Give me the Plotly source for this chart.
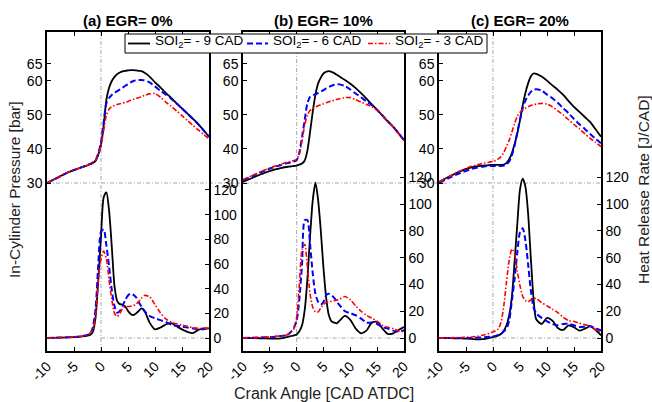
import plotly.graph_objects as go

# ---------------- data ----------------
CA = [-10, -8, -6, -4, -3, -2, -1.5, -1, -0.5, 0, 0.5, 1, 1.5, 2, 2.5, 3, 3.5, 4, 4.5, 5,
      5.5, 6, 6.5, 7, 7.5, 8, 9, 10, 11, 12, 13, 14, 15, 16, 17, 18, 19, 20]

# In-cylinder pressure [bar]
P_A_9 = [30, 31.6, 33.2, 34.4, 34.9, 35.5, 35.9, 36.5, 38.3, 41.2, 47, 54.5, 58, 60.0, 61.2, 62.0, 62.5, 62.8, 63.0, 63.1,
         63.2, 63.2, 63.1, 63.0, 62.9, 62.5, 61.3, 59.6, 58.1, 56.5, 55.0, 53.4, 51.9, 50.4, 48.9, 47.3, 45.5, 43.6]
P_A_6 = [30, 31.6, 33.2, 34.4, 35.0, 35.6, 36.1, 36.8, 38.8, 42, 48, 53.5, 55.0, 55.9, 56.5, 57.0, 57.5, 58.0, 58.6, 59.1,
         59.6, 60.0, 60.2, 60.3, 60.3, 60.2, 59.6, 58.4, 57.1, 56.0, 54.8, 53.4, 51.9, 50.4, 48.9, 47.3, 45.5, 43.6]
P_A_3 = [30, 31.6, 33.2, 34.4, 35.0, 35.6, 36.1, 36.8, 38.5, 41, 45.5, 50, 51.7, 52.5, 52.8, 53.1, 53.3, 53.5, 53.7, 54.0,
         54.3, 54.6, 54.9, 55.1, 55.4, 55.7, 56.2, 56.3, 55.2, 53.8, 52.6, 51.2, 49.8, 48.4, 47.0, 45.6, 44.3, 43.0]

P_B_9 = [30.3, 31.7, 33.0, 34.0, 34.4, 34.7, 34.8, 34.9, 35.0, 35.1, 35.4, 35.7, 36.6, 39.5, 45.0, 51.0, 56.0, 59.3, 61.0, 62.2,
         62.7, 62.9, 62.7, 62.3, 61.8, 61.3, 60.3, 59.2, 57.9, 56.4, 54.8, 53.1, 51.5, 49.8, 48.1, 46.5, 44.6, 42.6]
P_B_6 = [30.8, 32.2, 33.6, 34.8, 35.2, 35.7, 35.9, 36.1, 36.3, 36.7, 39.0, 43.5, 48.5, 53.5, 55.3, 55.8, 56.1, 56.5, 56.9, 57.3,
         57.8, 58.2, 58.6, 58.9, 59.0, 59.0, 58.5, 57.5, 56.3, 55.2, 54.0, 52.9, 51.5, 49.8, 48.1, 46.5, 44.6, 42.6]
P_B_3 = [31.0, 32.4, 33.8, 35.0, 35.5, 36.0, 36.2, 36.4, 36.6, 37.0, 38.5, 42.5, 47.0, 50.0, 51.3, 51.9, 52.3, 52.7, 53.0, 53.3,
         53.6, 53.9, 54.1, 54.4, 54.6, 54.8, 55.1, 55.1, 54.5, 53.8, 53.1, 52.4, 51.3, 49.7, 48.1, 46.4, 44.5, 42.5]

P_C_9 = [30.3, 32.0, 33.5, 34.6, 34.9, 35.1, 35.2, 35.2, 35.3, 35.3, 35.3, 35.3, 35.3, 35.4, 35.9, 37.0, 38.8, 41.5, 44.5, 48.5,
         52.9, 56.5, 59.3, 61.3, 62.2, 62.1, 61.3, 60.1, 58.7, 57.4, 55.9, 54.1, 52.4, 50.9, 49.4, 47.9, 45.8, 43.6]
P_C_6 = [30.0, 31.6, 33.0, 34.1, 34.5, 34.8, 34.9, 35.0, 35.0, 35.0, 35.0, 35.0, 35.0, 35.1, 35.5, 36.3, 38.2, 41.0, 45.0, 48.5,
         52.0, 54.2, 55.7, 56.8, 57.4, 57.6, 57.2, 56.0, 54.9, 53.6, 52.0, 50.5, 48.8, 47.3, 45.9, 44.4, 43.0, 41.7]
P_C_3 = [30.3, 32.0, 33.6, 34.9, 35.3, 35.7, 35.9, 36.0, 36.2, 36.3, 36.6, 37.1, 37.8, 39.0, 40.8, 42.6, 45.0, 47.5, 49.6, 50.8,
         51.5, 52.0, 52.4, 52.8, 53.0, 53.2, 53.4, 53.2, 52.4, 51.2, 50.0, 48.6, 47.2, 45.9, 44.5, 43.1, 41.9, 40.7]

# Heat release rate [J/CAD]
H_A_9 = [0, 0.3, 0.5, 1.0, 1.5, 2.5, 5, 17, 47, 82, 114, 118, 103, 74, 42, 30, 27.5, 27, 25.5, 22,
         19.5, 18.6, 20, 22, 24, 22.5, 12.5, 7, 8.5, 11, 12, 9.5, 7, 5, 4, 6.5, 7.8, 7.8]
H_A_6 = [0, 0.3, 0.6, 1.2, 2, 3.5, 9, 24, 60, 86, 88, 75, 58, 39, 26, 20.5, 22, 26, 31, 34.5,
         36, 35, 33, 29, 25.4, 22, 18, 16, 14.5, 13, 11, 10, 9.2, 8.5, 7.8, 7.2, 7.2, 7.8]
H_A_3 = [0, 0.3, 0.6, 1.2, 2, 4, 7, 18, 47, 64, 70.5, 64, 47, 31, 20, 17.5, 20, 24, 25.5, 25.5,
         25.8, 26.3, 27.5, 29.5, 32.2, 34.5, 33.5, 27, 20.5, 15.5, 13, 11.5, 10.5, 9.5, 8.3, 7.8, 7.8, 7.8]

H_B_9 = [0, 0, -0.3, -0.5, -0.3, 0.5, 1, 1.5, 2, 2.7, 5, 9.5, 21, 44, 76, 103, 116, 103, 80, 52,
         30, 17, 12.5, 11.5, 11, 13, 16.5, 13.5, 7, 3.5, 5.5, 11.5, 12, 7, 3, 3.5, 6, 8.2]
H_B_6 = [0, 0.2, 0.5, 1, 1.5, 2, 3, 5, 8, 13, 29, 55, 88, 88, 70, 48, 33, 27, 25, 27,
         32, 33, 32, 30, 27, 24.5, 20, 18.5, 17, 14.5, 11.5, 11.5, 10.5, 8.2, 7, 5.5, 4.8, 5.8]
H_B_3 = [0, 0.3, 0.6, 1.2, 1.6, 2, 3, 4.5, 7, 15.7, 40, 66, 70, 53, 33, 23, 19.5, 19.5, 22.5, 25,
         26.5, 27, 27.5, 28, 28.3, 29, 31, 28.5, 24, 20, 17, 14.8, 12.5, 9.5, 8, 7, 5.5, 4.5]

H_C_9 = [0, 0, -0.3, -0.7, -1, -0.8, -0.6, -0.3, 0.2, 0.8, 1.3, 2, 3.2, 5.5, 9.5, 17, 31, 57, 85, 111,
         119, 113, 93, 60, 30, 14, 10.5, 15, 13, 7.5, 6, 9.5, 8, 5.5, 7, 8.7, 6, 2]
H_C_6 = [0, 0, 0, 0, 0.2, 0.4, 0.6, 0.8, 1, 1.2, 1.6, 2.2, 3, 5, 7, 13, 28, 44, 64, 79,
         82, 73, 55, 36, 23, 18.5, 15, 12.5, 10.5, 9.5, 10.5, 10.5, 9.5, 8.2, 8.5, 9, 7, 5.7]
H_C_3 = [0, 0.2, 0.4, 0.8, 1.2, 2, 2.5, 3, 3.7, 4.5, 5.5, 7, 12, 24, 42, 58, 66.5, 63, 50, 39,
         31, 28, 27, 28.5, 29.5, 29.5, 26.5, 24, 21.5, 19, 15.5, 13, 12.3, 11, 10, 9, 6.2, 4.5]

SERIES_NAMES = ["SOI<sub>2</sub>= - 9 CAD", "SOI<sub>2</sub>= - 6 CAD", "SOI<sub>2</sub>= - 3 CAD"]
PANEL_TITLES = ["<b>(a) EGR= 0%</b>", "<b>(b) EGR= 10%</b>", "<b>(c) EGR= 20%</b>"]
X_TICKS = [-10, -5, 0, 5, 10, 15, 20]
X_TICK_LABELS = ["-10", "-5", "0", "5", "10", "15", "20"]
P_TICKS = [30, 40, 50, 60, 65]
H_TICKS = [0, 20, 40, 60, 80, 100, 120]
X_TITLE = "Crank Angle [CAD ATDC]"
YL_TITLE = "In-Cylinder Pressure [bar]"
YR_TITLE = "Heat Release Rate [J/CAD]"

PRESSURE = [[P_A_9, P_A_6, P_A_3], [P_B_9, P_B_6, P_B_3], [P_C_9, P_C_6, P_C_3]]
HRR = [[H_A_9, H_A_6, H_A_3], [H_B_9, H_B_6, H_B_3], [H_C_9, H_C_6, H_C_3]]

# ---------------- styling / layout ----------------
W, H = 652, 402
FONT = "Liberation Sans, Arial, sans-serif"
PANEL_PX = [(47, 209), (243, 404), (439, 601)]
Y_TOP, Y_BOT = 32, 351
P_RANGE = [-19.4, 74.4]
H_RANGES = [[-10.5, 248.0], [-9.7, 228.5], [-9.7, 228.5]]
STYLES = [dict(color="black", width=1.8, dash="solid"),
          dict(color="#0000FF", width=2.0, dash="6px,3px"),
          dict(color="#FF0000", width=1.6, dash="5px,2px,1.5px,2px")]
GREY = dict(color="#9c9c9c", width=0.9, dash="4px,2px,1px,2px")

ydom = [(H - Y_BOT) / H, (H - Y_TOP) / H]
fig = go.Figure()

tickfont = dict(family=FONT, size=14, color="black")
for i in range(3):
    xid = "x" if i == 0 else f"x{i+1}"
    pid = "y" if i == 0 else f"y{2*i+1}"
    hid = f"y{2*i+2}"
    for k in range(3):
        fig.add_trace(go.Scatter(x=CA, y=PRESSURE[i][k], xaxis=xid, yaxis=pid, mode="lines",
                                 line=dict(shape="spline", smoothing=0.7, **STYLES[k]),
                                 name=SERIES_NAMES[k], showlegend=False))
        fig.add_trace(go.Scatter(x=CA, y=HRR[i][k], xaxis=xid, yaxis=hid, mode="lines",
                                 line=dict(shape="spline", smoothing=0.7, **STYLES[k]),
                                 name=SERIES_NAMES[k], showlegend=False))
    x0, x1 = PANEL_PX[i]
    xkey = "xaxis" if i == 0 else f"xaxis{i+1}"
    pkey = "yaxis" if i == 0 else f"yaxis{2*i+1}"
    hkey = f"yaxis{2*i+2}"
    fig.update_layout(**{
        xkey: dict(domain=[x0 / W, x1 / W], range=[-10, 20], anchor=pid, tickvals=X_TICKS,
                   ticktext=X_TICK_LABELS, automargin=False,
                   ticks="inside", ticklen=4, tickwidth=1, tickcolor="black", tickangle=-45,
                   showline=True, linecolor="black", linewidth=1.5, mirror="ticks",
                   showgrid=False, zeroline=False, tickfont=tickfont),
        pkey: dict(domain=ydom, range=P_RANGE, anchor=xid, tickvals=P_TICKS, automargin=False,
                   ticks="inside", ticklen=4, tickcolor="black", showline=True,
                   linecolor="black", linewidth=1.5, showgrid=False, zeroline=False,
                   tickfont=tickfont),
        hkey: dict(overlaying=pid, side="right", anchor=xid, range=H_RANGES[i], tickvals=H_TICKS,
                   automargin=False,
                   ticks="inside", ticklen=4, tickcolor="black", showline=True,
                   linecolor="black", linewidth=1.5, showgrid=False, zeroline=False,
                   tickfont=tickfont),
    })
    # reference lines
    fig.add_shape(type="line", xref=xid, yref=f"{pid} domain", x0=0, x1=0, y0=0, y1=1,
                  line=GREY, layer="below")
    fig.add_shape(type="line", xref=xid, yref=hid, x0=0, x1=20, y0=0, y1=0,
                  line=GREY, layer="below")
    fig.add_annotation(text=PANEL_TITLES[i], xref="paper", yref="paper",
                       x=(x0 + x1) / 2 / W, y=1 - 20 / H, showarrow=False,
                       xanchor="center", yanchor="middle",
                       font=dict(family=FONT, size=15, color="black"))

fig.add_shape(type="line", xref="paper", yref="y", x0=PANEL_PX[0][0] / W, x1=605 / W,
              y0=30, y1=30, line=GREY, layer="below")

# legend box drawn manually (box, line samples, labels)
LEG_BOX = (125, 34, 487, 53)
LEG_ITEMS = [(128, 150, 153), (247, 268, 271), (368, 390, 393)]
fig.add_shape(type="rect", xref="paper", yref="paper",
              x0=LEG_BOX[0] / W, x1=LEG_BOX[2] / W, y0=1 - LEG_BOX[3] / H, y1=1 - LEG_BOX[1] / H,
              line=dict(color="black", width=1), fillcolor="white", layer="above")
ly = 1 - 43.5 / H
for k, (lx0, lx1, tx) in enumerate(LEG_ITEMS):
    fig.add_shape(type="line", xref="paper", yref="paper", x0=lx0 / W, x1=lx1 / W, y0=ly, y1=ly,
                  line=STYLES[k], layer="above")
    fig.add_annotation(text=SERIES_NAMES[k], xref="paper", yref="paper", x=tx / W, y=1 - 42 / H,
                       showarrow=False, xanchor="left", yanchor="middle",
                       font=dict(family=FONT, size=13.5, color="black"))

fig.add_annotation(text=X_TITLE, xref="paper", yref="paper", x=324 / W, y=1 - 393 / H,
                   showarrow=False, xanchor="center", yanchor="middle",
                   font=dict(family=FONT, size=16, color="#222"))
fig.add_annotation(text=YL_TITLE, xref="paper", yref="paper", x=15 / W, y=1 - 190 / H,
                   showarrow=False, textangle=-90, xanchor="center", yanchor="middle",
                   font=dict(family=FONT, size=15.5, color="#222"))
fig.add_annotation(text=YR_TITLE, xref="paper", yref="paper", x=644 / W, y=1 - 190 / H,
                   showarrow=False, textangle=-90, xanchor="center", yanchor="middle",
                   font=dict(family=FONT, size=15.5, color="#222"))

fig.update_layout(
    template="none",
    width=W, height=H, margin=dict(l=0, r=0, t=0, b=0, autoexpand=False),
    paper_bgcolor="white", plot_bgcolor="rgba(0,0,0,0)",
    font=dict(family=FONT, color="black"), showlegend=False,
)

fig.write_html("out.html")
